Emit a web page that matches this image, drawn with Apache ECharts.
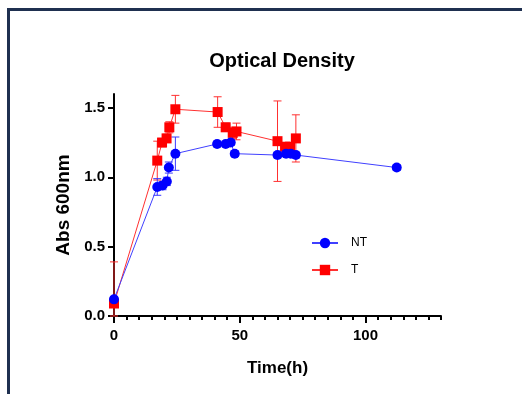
<!DOCTYPE html>
<html>
<head>
<meta charset="utf-8">
<script src="https://cdn.jsdelivr.net/npm/echarts@6/dist/echarts.min.js"></script>
<style>
  html, body { margin: 0; padding: 0; background: #fff; }
  #frame { position: absolute; left: 7px; top: 8px; right: -10px; bottom: -10px; border-left: 3px solid #1f3050; border-top: 3px solid #1f3050; }
  #main { position: absolute; left: 0; top: 0; width: 522px; height: 394px; }
</style>
</head>
<body>
<div id="frame"></div>
<div id="main"></div>
<script>
// time points (h) and optical density readings
const ntTime = [0, 17.2, 19.3, 21, 21.8, 24.4, 41, 44.4, 46.4, 48, 65, 68.4, 70.3, 72.3, 112.4]
const ntValue = [0.12, 0.93, 0.94, 0.97, 1.07, 1.17, 1.24, 1.24, 1.25, 1.17, 1.16, 1.17, 1.17, 1.16, 1.07]
const ntError = [0.02, 0.06, 0.03, 0.03, 0.04, 0.12, 0.02, 0.02, 0.02, 0.02, 0.02, 0.02, 0.02, 0.02, 0.02]

const tTime = [0, 17.2, 19.1, 20.9, 22, 24.4, 41.2, 44.4, 47.2, 48.7, 65, 68, 70, 72.3]
const tValue = [0.09, 1.12, 1.25, 1.28, 1.36, 1.49, 1.47, 1.36, 1.32, 1.33, 1.26, 1.22, 1.22, 1.28]
const tError = [0.3, 0.14, 0.03, 0.03, 0.04, 0.1, 0.11, 0.03, 0.04, 0.06, 0.29, 0.03, 0.03, 0.17]

const xTickValues = [0, 50, 100]
const yTickValues = [0, 0.5, 1.0, 1.5]

const font = 'Liberation Sans, Arial, sans-serif'

const pairs = (xs, ys) => xs.map((x, i) => [x, ys[i]])
const bars = (xs, ys, es) => xs.map((x, i) => [x, Math.max(0, ys[i] - es[i]), ys[i] + es[i]])

function errorBar(color) {
  return function (params, api) {
    const x = api.value(0)
    const lo = api.coord([x, api.value(1)])
    const hi = api.coord([x, api.value(2)])
    const half = 4
    const style = { stroke: color, lineWidth: 1 }
    return {
      type: 'group',
      children: [
        { type: 'line', shape: { x1: lo[0], y1: lo[1], x2: hi[0], y2: hi[1] }, style },
        { type: 'line', shape: { x1: hi[0] - half, y1: hi[1], x2: hi[0] + half, y2: hi[1] }, style },
        { type: 'line', shape: { x1: lo[0] - half, y1: lo[1], x2: lo[0] + half, y2: lo[1] }, style }
      ]
    }
  }
}

const myChart = echarts.init(document.getElementById('main'))
myChart.setOption({
  animation: false,
  title: {
    text: 'Optical Density',
    left: 277,
    top: 46,
    textAlign: 'center',
    textStyle: { fontFamily: font, fontSize: 20, fontWeight: 'bold', color: '#000' }
  },
  legend: {
    orient: 'vertical',
    left: 306,
    top: 232,
    itemGap: 15,
    itemWidth: 26,
    itemHeight: 13,
    textStyle: { fontFamily: font, fontSize: 12, color: '#000', padding: [0, 0, 0, 8] },
    data: ['NT', 'T']
  },
  grid: { left: 114, top: 94, right: 81, bottom: 78 },
  xAxis: [
    {
      type: 'value',
      min: 0,
      max: 130,
      interval: 50,
      name: 'Time(h)',
      nameLocation: 'middle',
      nameGap: 44,
      nameTextStyle: { fontFamily: font, fontSize: 17, fontWeight: 'bold', color: '#000' },
      axisLine: { lineStyle: { color: '#000', width: 2 } },
      axisTick: { length: 7, lineStyle: { color: '#000', width: 2 }, customValues: xTickValues },
      axisLabel: { customValues: xTickValues, margin: 12, fontFamily: font, fontSize: 15, fontWeight: 'bold', color: '#000' },
      splitLine: { show: false }
    },
    {
      type: 'value',
      position: 'bottom',
      min: 0,
      max: 130,
      interval: 5,
      axisLine: { show: false },
      axisTick: { length: 4, lineStyle: { color: '#000', width: 2 } },
      axisLabel: { show: false },
      splitLine: { show: false }
    }
  ],
  yAxis: {
    type: 'value',
    min: 0,
    max: 1.6,
    interval: 0.5,
    name: 'Abs 600nm',
    nameLocation: 'middle',
    nameGap: 38,
    nameTextStyle: { fontFamily: font, fontSize: 19, fontWeight: 'bold', color: '#000' },
    axisLine: { show: true, lineStyle: { color: '#000', width: 2 } },
    axisTick: { show: true, length: 6, lineStyle: { color: '#000', width: 2 }, customValues: yTickValues },
    axisLabel: {
      customValues: yTickValues,
      margin: 9,
      fontFamily: font, fontSize: 15, fontWeight: 'bold', color: '#000',
      formatter: (v) => v.toFixed(1)
    },
    splitLine: { show: false }
  },
  series: [
    {
      type: 'custom',
      renderItem: errorBar('#ff3030'),
      data: bars(tTime, tValue, tError),
      z: 1,
      silent: true
    },
    {
      type: 'custom',
      renderItem: errorBar('#3a3aff'),
      data: bars(ntTime, ntValue, ntError),
      z: 1,
      silent: true
    },
    {
      name: 'T',
      type: 'line',
      data: pairs(tTime, tValue),
      symbol: 'rect',
      symbolSize: 10,
      itemStyle: { color: '#ff0000' },
      lineStyle: { color: '#ff3030', width: 1 },
      z: 3
    },
    {
      name: 'NT',
      type: 'line',
      data: pairs(ntTime, ntValue),
      symbol: 'circle',
      symbolSize: 10,
      itemStyle: { color: '#0000ff' },
      lineStyle: { color: '#4040ff', width: 1 },
      z: 4
    }
  ]
})
window.addEventListener('resize', () => {
  myChart.resize()
})
</script>
</body>
</html>
